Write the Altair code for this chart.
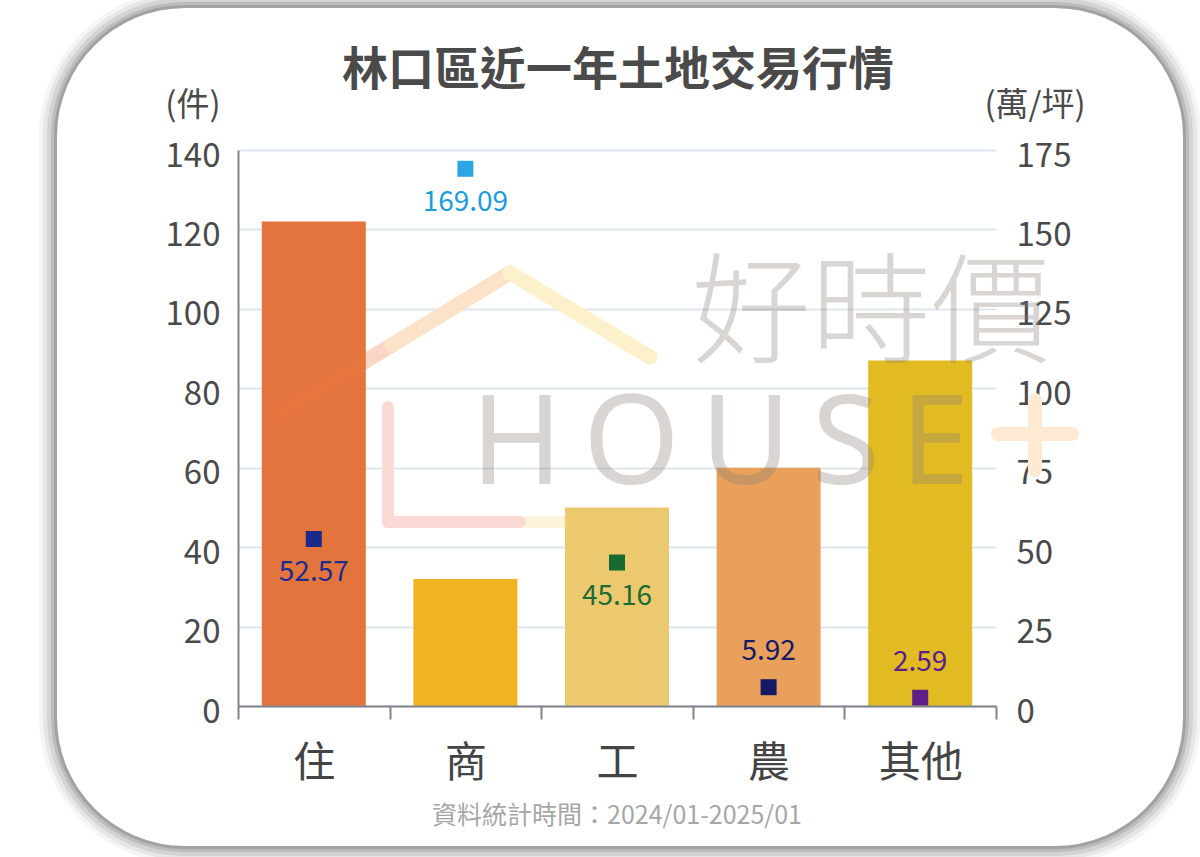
import altair as alt
import pandas as pd

# ---------------- data ----------------
categories = ["住", "商", "工", "農", "其他"]
counts = [122, 32, 50, 60, 87]                 # 件 (left axis)
prices = [52.57, 169.09, 45.16, 5.92, 2.59]    # 萬/坪 (right axis)
bar_colors = ["#e4743e", "#f2b323", "#ecc96e", "#e8a05a", "#e2ba22"]
marker_colors = ["#1b2a88", "#2aa7e0", "#176b32", "#161a66", "#5e2088"]
label_colors = ["#1b2d8c", "#1a9de0", "#1e6b35", "#171a66", "#5a1e8e"]
labels_above = ["農", "其他"]
left_ticks = [0, 20, 40, 60, 80, 100, 120, 140]
right_ticks = [0, 25, 50, 75, 100, 125, 150, 175]

title_text = ["林口區近一年土地交易行情"]
left_unit = ["(件)"]
right_unit = ["(萬/坪)"]
footnote = ["資料統計時間：2024/01-2025/01"]
watermark_cn = ["好時價"]
watermark_en = ["H\u2009O\u2009U\u2009S\u2009E"]

FONT = "Noto Sans CJK TC"
W, H = 758, 556
PAD_L, PAD_T = 238, 150

df = pd.DataFrame({
    "category": categories,
    "count": counts,
    "price": prices,
    "bar_color": bar_colors,
    "marker_color": marker_colors,
    "label_color": label_colors,
})

one = alt.Data(values=[{"k": 1}])

# ---------------- card frame with soft shadow ----------------
cx0, cx1, cy0, cy1, rad = 57 - PAD_L, 1183 - PAD_L, 8 - PAD_T, 846 - PAD_T, 128
shadow_layers = []
for e, op in [(9, 0.06), (7, 0.09), (5, 0.13), (3, 0.18), (1.5, 0.25)]:
    shadow_layers.append(
        alt.Chart(one).mark_rect(
            fill="transparent", stroke="#555555", strokeWidth=2 * e,
            strokeOpacity=op, cornerRadius=rad + e
        ).encode(
            x=alt.value(cx0 - e), x2=alt.value(cx1 + e),
            y=alt.value(cy0 - e), y2=alt.value(cy1 + e)
        )
    )

# ---------------- axes / scales ----------------
x_enc = alt.X(
    "category:N", sort=categories,
    scale=alt.Scale(paddingInner=0, paddingOuter=0),
    axis=alt.Axis(
        title=None, labelAngle=0, labelFont=FONT, labelFontSize=42,
        labelColor="#444444", labelBaseline="middle", labelPadding=44,
        tickBand="extent", tickSize=13, tickColor="#80838b", tickWidth=2,
        domainColor="#80838b", domainWidth=2, zindex=1,
    ),
)

y_left = alt.Y(
    "count:Q",
    scale=alt.Scale(domain=[0, 140], nice=False),
    axis=alt.Axis(
        title=None, values=left_ticks, grid=True, gridColor="#dfe5ef",
        gridWidth=2, domain=True, domainColor="#80838b", domainWidth=2,
        ticks=False, tickSize=0, labelFont=FONT, labelFontSize=33,
        labelColor="#4a4a4a", labelPadding=18, labelBaseline="middle",
        labelOffset=6,
    ),
)

y_right = alt.Y(
    "price:Q",
    scale=alt.Scale(domain=[0, 175], nice=False),
    axis=alt.Axis(
        title=None, orient="right", values=right_ticks, grid=False,
        domain=False, ticks=False, tickSize=0, labelFont=FONT,
        labelFontSize=33, labelColor="#4a4a4a", labelPadding=20,
        labelBaseline="middle", labelOffset=6, labelAlign="left",
    ),
)

base = alt.Chart(df)

bars = base.mark_bar(width=alt.RelativeBandSize(0.686)).encode(
    x=x_enc, y=y_left, color=alt.Color("bar_color:N", scale=None)
)

# ---------------- watermark (decoration) ----------------
def seg(x1, y1, x2, y2, color, op, w):
    return alt.Chart(one).mark_rule(
        color=color, opacity=op, strokeWidth=w, strokeCap="round"
    ).encode(
        x=alt.value(x1 - PAD_L), y=alt.value(y1 - PAD_T),
        x2=alt.value(x2 - PAD_L), y2=alt.value(y2 - PAD_T)
    )

wm = [
    seg(280, 413, 392, 345, "#ec7a3a", 0.30, 15),
    seg(392, 345, 510, 273, "#fbe2c8", 1.0, 15),
    seg(510, 273, 650, 357, "#fdf1cc", 1.0, 15),
    seg(520, 522, 592, 522, "#f8d070", 0.25, 12),
    seg(388, 407, 388, 522, "#fbdad6", 1.0, 12),
    seg(388, 522, 520, 522, "#fbdad6", 1.0, 12),
    seg(998, 434, 1072, 434, "#feead2", 1.0, 14),
    seg(1035, 400, 1035, 470, "#feead2", 1.0, 14),
    alt.Chart(alt.Data(values=[{"t": t} for t in watermark_cn])).mark_text(
        font=FONT, fontSize=120, fontWeight=300, color="#8a817c",
        opacity=0.33, align="center", baseline="middle"
    ).encode(text="t:N", x=alt.value(871 - PAD_L), y=alt.value(318 - PAD_T)),
    alt.Chart(alt.Data(values=[{"t": t} for t in watermark_en])).mark_text(
        font="Noto Sans", fontSize=124, fontWeight="normal", color="#8a817c",
        opacity=0.33, align="center", baseline="middle"
    ).encode(text="t:N", x=alt.value(720 - PAD_L), y=alt.value(447 - PAD_T)),
]

# ---------------- markers & value labels ----------------
markers = base.mark_square(size=256, opacity=1).encode(
    x=x_enc, y=y_right, color=alt.Color("marker_color:N", scale=None)
)
lab_below = base.transform_filter(
    ~alt.FieldOneOfPredicate(field="category", oneOf=labels_above)
).mark_text(font=FONT, fontSize=28, dy=34, baseline="middle").encode(
    x=x_enc, y=y_right, text=alt.Text("price:Q", format=".2f"),
    color=alt.Color("label_color:N", scale=None)
)
lab_above = base.transform_filter(
    alt.FieldOneOfPredicate(field="category", oneOf=labels_above)
).mark_text(font=FONT, fontSize=28, dy=-35, baseline="middle").encode(
    x=x_enc, y=y_right, text=alt.Text("price:Q", format=".2f"),
    color=alt.Color("label_color:N", scale=None)
)
right_group = alt.layer(markers, lab_below, lab_above)

# ---------------- texts ----------------
def txt(values, x, y, size, color, weight="normal"):
    return alt.Chart(alt.Data(values=[{"t": v} for v in values])).mark_text(
        font=FONT, fontSize=size, color=color, fontWeight=weight,
        align="center", baseline="middle"
    ).encode(text="t:N", x=alt.value(x - PAD_L), y=alt.value(y - PAD_T))

texts = [
    txt(title_text, 618, 71, 46, "#4a4a4a", "bold"),
    txt(left_unit, 193, 106, 33, "#4a4a4a"),
    txt(right_unit, 1035, 106, 33, "#4a4a4a"),
    txt(footnote, 617, 816, 25, "#a6a6a6"),
]

chart = alt.layer(
    *shadow_layers, bars, *wm, right_group, *texts
).resolve_scale(y="independent").properties(
    width=W, height=H,
    autosize=alt.AutoSizeParams(type="none"),
    padding={"left": PAD_L, "top": PAD_T, "right": 1200 - PAD_L - W,
             "bottom": 857 - PAD_T - H},
    background="white",
).configure_view(strokeWidth=0)

chart.save("out.html", embed_options={"renderer": "svg", "actions": False})
